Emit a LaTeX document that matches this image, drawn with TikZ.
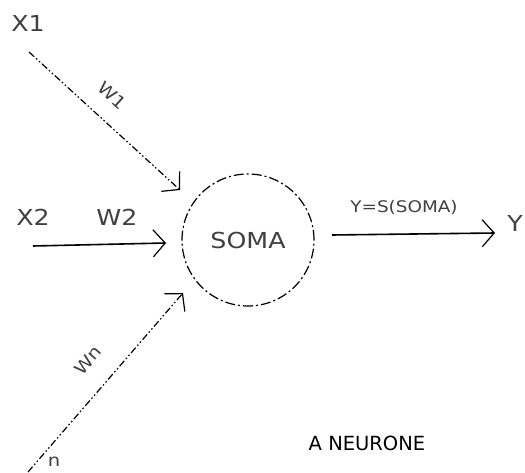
\documentclass[tikz,border=0pt]{standalone}
\usepackage{fontspec}
\setmainfont{DejaVu Sans}
\newfontfamily\plotfont[FakeStretch=1.15]{DejaVu Sans}
\usetikzlibrary{arrows.meta}
\tikzset{
  lbl/.style={inner sep=0pt, text=black!75, font=\plotfont\fontsize{22}{22}\selectfont},
  smalllbl/.style={inner sep=0pt, text=black!75, font=\plotfont\fontsize{17}{17}\selectfont},
  barb/.style={-{Straight Barb[length=12pt,width=27pt,line width=1.2pt]}},
  solidarrow/.style={barb, line width=1.6pt},
  dasharrow/.style={barb, line width=1.2pt, dash pattern=on 7pt off 2.5pt on 1.5pt off 2.5pt on 1.5pt off 2.5pt},
  somacircle/.style={circle, draw, line width=1.2pt, minimum size=132pt, inner sep=0pt,
     dash pattern=on 10pt off 3pt on 2pt off 3pt, text=black!75,
     font=\plotfont\fontsize{22}{22}\selectfont}
}
\begin{document}
\begin{tikzpicture}[x=1pt,y=-1pt]
\useasboundingbox (0,0) rectangle (525,473);
\clip (0,0) rectangle (525,473);
% nodes
\node[lbl] (x1) at (28,23) {X1};
\node[lbl] (x2) at (33,217) {X2};
\node[lbl] (w2) at (117,217) {W2};
\node[smalllbl, rotate=-42] (w1) at (112,96) {W1};
\node[smalllbl, rotate=49] (wn) at (88,360) {Wn};
\node[smalllbl] (xn) at (54,462) {n};
\node[somacircle] (soma) at (248,240) {SOMA};
\node[inner sep=0pt, text=black!75, font=\plotfont\fontsize{16}{16}\selectfont] (ys) at (404,207) {Y=S(SOMA)};
\node[lbl] (y) at (515,223) {Y};
\node[inner sep=0pt, font=\fontsize{19.5}{19.5}\selectfont] (title) at (367,443) {A NEURONE};
% connector ends
\coordinate (s1) at (29,52);
\coordinate (t1) at (180,190);
\coordinate (s2) at (33,246);
\coordinate (t2) at (166,243);
\coordinate (s3) at (28,472);
\coordinate (t3) at (183,293);
\coordinate (o1) at (332,235);
\coordinate (o2) at (495,233);
% connectors
\draw[dasharrow] (s1) -- (t1);
\draw[solidarrow] (s2) -- (t2);
\draw[dasharrow] (s3) -- (t3);
\draw[solidarrow] (o1) -- (o2);
\end{tikzpicture}
\end{document}
